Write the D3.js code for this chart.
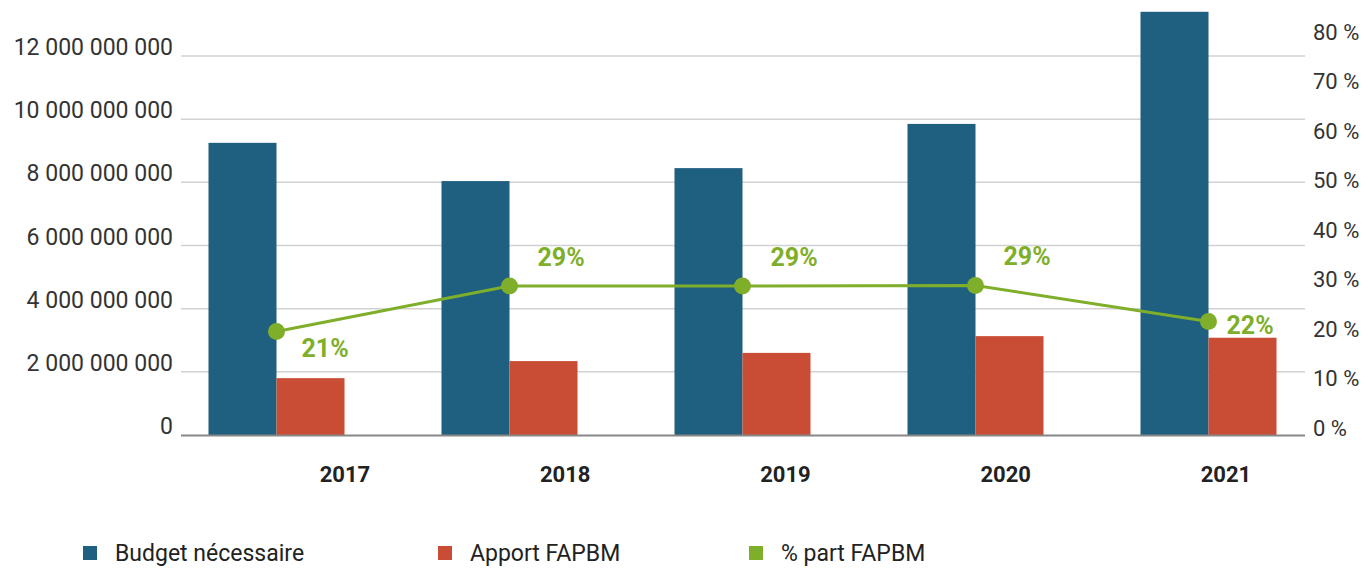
<!DOCTYPE html>
<html>
<head>
<meta charset="utf-8">
<script src="https://cdn.jsdelivr.net/npm/d3@7"></script>
<style>
  body { margin: 0; background: #fff; }
  text { font-family: Roboto, "Noto Sans", sans-serif; }
</style>
</head>
<body>
<div id="chart"></div>
<script>
// data
var years = ["2017", "2018", "2019", "2020", "2021"];
var budget = [9.25e9, 8.04e9, 8.45e9, 9.85e9, 13.4e9];
var apport = [1.80e9, 2.34e9, 2.60e9, 3.13e9, 3.08e9];
var part = [19.5, 28.7, 28.7, 28.8, 21.5];
var partLabels = ["21%", "29%", "29%", "29%", "22%"];
var labelSide = ["below", "above", "above", "above", "right"];
var leftTicks = [0, 2e9, 4e9, 6e9, 8e9, 10e9, 12e9];
var rightTicks = [0, 10, 20, 30, 40, 50, 60, 70, 80];
var legendNames = ["Budget nécessaire", "Apport FAPBM", "% part FAPBM"];

var blue = "#1f5f7f", red = "#c94c34", green = "#7faf2a";

var svgWidth = 1368, svgHeight = 568;
var svg = d3.select("#chart").append("svg")
  .attr("width", svgWidth)
  .attr("height", svgHeight);

// scales
var x = d3.scaleBand().domain(years).range([160, 1325]);
var xLabel = d3.scalePoint().domain(years).range([345, 1226]);
var barW = 68;
var yLeft = d3.scaleLinear().domain([0, 12e9]).range([435, 56]);
var yRight = d3.scaleLinear().domain([0, 80]).range([428, 32]);

var gridLeft = 181, gridRight = 1305;

// gridlines
svg.append("g").selectAll("line")
  .data(leftTicks.slice(1))
  .enter().append("line")
  .attr("x1", gridLeft).attr("x2", gridRight)
  .attr("y1", d => yLeft(d)).attr("y2", d => yLeft(d))
  .attr("stroke", "#d2d2d2")
  .attr("stroke-width", 1.5);

// left tick labels
var fmt = d => d3.format(",")(d).replace(/,/g, " ");
svg.append("g").selectAll("text")
  .data(leftTicks)
  .enter().append("text")
  .attr("x", 173)
  .attr("y", d => yLeft(d) - 1)
  .attr("text-anchor", "end")
  .attr("font-size", 23)
  .attr("fill", "#333")
  .text(fmt);

// right tick labels
svg.append("g").selectAll("text")
  .data(rightTicks)
  .enter().append("text")
  .attr("x", 1313)
  .attr("y", d => yRight(d))
  .attr("dy", "0.36em")
  .attr("font-size", 22)
  .attr("fill", "#333")
  .text(d => d + " %");

// bars
var cx = d => x(d) + x.bandwidth() / 2;
svg.append("g").selectAll("rect")
  .data(years)
  .enter().append("rect")
  .attr("x", (d) => cx(d) - barW)
  .attr("y", (d, i) => yLeft(budget[i]))
  .attr("width", barW)
  .attr("height", (d, i) => yLeft(0) - yLeft(budget[i]))
  .attr("fill", blue);

svg.append("g").selectAll("rect")
  .data(years)
  .enter().append("rect")
  .attr("x", (d) => cx(d))
  .attr("y", (d, i) => yLeft(apport[i]))
  .attr("width", barW)
  .attr("height", (d, i) => yLeft(0) - yLeft(apport[i]))
  .attr("fill", red);

// baseline
svg.append("line")
  .attr("x1", gridLeft).attr("x2", gridRight)
  .attr("y1", yLeft(0) + 0.5).attr("y2", yLeft(0) + 0.5)
  .attr("stroke", "#888")
  .attr("stroke-width", 2);

// year labels
svg.append("g").selectAll("text")
  .data(years)
  .enter().append("text")
  .attr("x", d => xLabel(d))
  .attr("y", 482)
  .attr("text-anchor", "middle")
  .attr("font-size", 22)
  .attr("font-weight", "bold")
  .attr("fill", "#222")
  .text(d => d);

// percentage line
var line = d3.line()
  .x((d, i) => cx(years[i]))
  .y(d => yRight(d));

svg.append("path")
  .datum(part)
  .attr("d", line)
  .attr("fill", "none")
  .attr("stroke", green)
  .attr("stroke-width", 3);

svg.append("g").selectAll("circle")
  .data(part)
  .enter().append("circle")
  .attr("cx", (d, i) => cx(years[i]))
  .attr("cy", d => yRight(d))
  .attr("r", 8.5)
  .attr("fill", green);

// percentage labels
var offX = { below: 25, above: 28, right: 18 };
var offY = { below: 26, above: -20, right: 12 };
svg.append("g").selectAll("text")
  .data(part)
  .enter().append("text")
  .attr("x", (d, i) => cx(years[i]) + offX[labelSide[i]])
  .attr("y", (d, i) => yRight(d) + offY[labelSide[i]])
  .attr("font-size", 25)
  .attr("font-weight", "bold")
  .attr("fill", green)
  .text((d, i) => partLabels[i]);

// legend
var legendX = [83, 438, 749];
var legendColors = [blue, red, green];
var legend = svg.append("g").selectAll("g")
  .data(legendNames)
  .enter().append("g")
  .attr("transform", (d, i) => `translate(${legendX[i]}, 546)`);

legend.append("rect")
  .attr("width", 14).attr("height", 14)
  .attr("fill", (d, i) => legendColors[i]);

legend.append("text")
  .attr("x", 32)
  .attr("y", 7)
  .attr("dy", "0.36em")
  .attr("font-size", 23)
  .attr("fill", "#222")
  .text(d => d);
</script>
</body>
</html>
